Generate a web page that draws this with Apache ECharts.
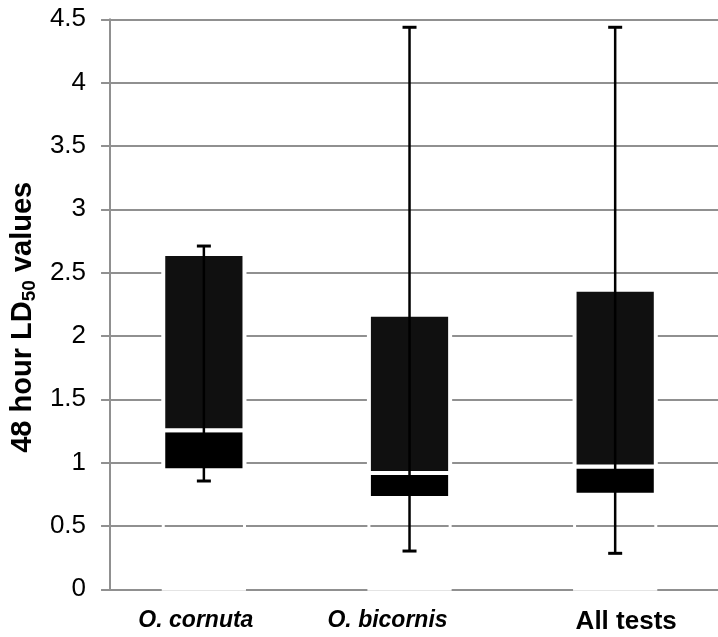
<!DOCTYPE html>
<html>
<head>
<meta charset="utf-8">
<script src="https://cdn.jsdelivr.net/npm/echarts@6/dist/echarts.min.js"></script>
<style>
  html, body { margin: 0; padding: 0; background: #fff; }
  #chart { width: 718px; height: 637px; }
</style>
</head>
<body>
<div id="chart"></div>
<script>
// LD50 summary per group: whiskers, quartiles and median
const categories = ['O. cornuta', 'O. bicornis', 'All tests'];
const whiskerLow = [0.855, 0.302, 0.284];
const lowerQuartile = [0.939, 0.721, 0.747];
const median = [1.255, 0.918, 0.969];
const upperQuartile = [2.647, 2.168, 2.365];
const whiskerHigh = [2.710, 4.437, 4.437];
const yTicks = { min: 0, max: 4.5, interval: 0.5 };
const italicNames = new Set(['O. cornuta', 'O. bicornis']);

const FONT = '"Liberation Sans", Arial, sans-serif';
const GRID_GRAY = '#909090';

// small horizontal nudges of the category captions (left, right padding)
const captionPad = { 'O. cornuta': [0, 16], 'O. bicornis': [0, 44], 'All tests': [22, 0] };

const boxData = categories.map((c, i) => [
  i, whiskerLow[i], lowerQuartile[i], median[i], upperQuartile[i], whiskerHigh[i]
]);

function renderBox(params, api) {
  const idx = api.value(0);
  const at = v => api.coord([idx, v]);
  const cx = at(0)[0];
  const band = api.size([1, 0])[0];
  const w = band * 0.395;
  const capW = 14;
  const y0 = at(0)[1];
  const yLo = at(api.value(1))[1];
  const yQ1 = at(api.value(2))[1];
  const yMed = at(api.value(3))[1];
  const yQ3 = at(api.value(4))[1];
  const yHi = at(api.value(5))[1];
  const left = cx - w / 2;
  return {
    type: 'group',
    children: [
      // hidden base segment: only its white outline shows against the grid
      { type: 'rect', shape: { x: left, y: yQ1, width: w, height: y0 - yQ1 },
        style: { fill: 'none', stroke: '#fff', lineWidth: 3 } },
      { type: 'rect', shape: { x: left, y: yMed, width: w, height: yQ1 - yMed },
        style: { fill: '#000', stroke: '#fff', lineWidth: 4 } },
      { type: 'rect', shape: { x: left, y: yQ3, width: w, height: yMed - yQ3 },
        style: { fill: '#101010', stroke: '#fff', lineWidth: 4 } },
      { type: 'line', shape: { x1: cx, y1: yLo, x2: cx, y2: yHi },
        style: { stroke: '#000', lineWidth: 2.5 } },
      { type: 'line', shape: { x1: cx - capW / 2, y1: yHi, x2: cx + capW / 2, y2: yHi },
        style: { stroke: '#000', lineWidth: 3 } },
      { type: 'line', shape: { x1: cx - capW / 2, y1: yLo, x2: cx + capW / 2, y2: yLo },
        style: { stroke: '#000', lineWidth: 3 } }
    ]
  };
}

const richCaptions = {};
categories.forEach((c, i) => {
  const pad = captionPad[c];
  richCaptions['c' + i] = {
    fontFamily: FONT,
    fontSize: italicNames.has(c) ? 23 : 26,
    fontWeight: 'bold',
    fontStyle: italicNames.has(c) ? 'italic' : 'normal',
    color: '#000',
    padding: [0, pad[1], 0, pad[0]]
  };
});

const chart = echarts.init(document.getElementById('chart'), null, { renderer: 'canvas' });
chart.setOption({
  animation: false,
  backgroundColor: '#fff',
  grid: { left: 97, right: 0, top: 19.3, bottom: 47.7, containLabel: false },
  xAxis: {
    type: 'category',
    data: categories,
    axisLine: { show: false },
    axisTick: { show: false },
    axisLabel: {
      margin: 20,
      formatter: v => '{c' + categories.indexOf(v) + '|' + v + '}',
      rich: richCaptions
    }
  },
  yAxis: {
    type: 'value',
    min: yTicks.min,
    max: yTicks.max,
    interval: yTicks.interval,
    offset: -9,
    axisLine: { show: true, lineStyle: { color: GRID_GRAY, width: 2 } },
    axisTick: { show: false },
    splitLine: { show: true, lineStyle: { color: GRID_GRAY, width: 2 } },
    axisLabel: { margin: 24, fontFamily: FONT, fontSize: 26, color: '#000' },
    name: '48 hour LD{sub|50} values',
    nameLocation: 'middle',
    nameGap: 70,
    nameRotate: 90,
    nameTextStyle: {
      fontFamily: FONT, fontSize: 29, fontWeight: 'bold', color: '#000',
      padding: [0, 26, 0, 0],
      rich: {
        sub: { fontFamily: FONT, fontSize: 19, fontWeight: 'bold', color: '#000', verticalAlign: 'bottom', padding: [14, 0, 0, 0] }
      }
    }
  },
  series: [{
    type: 'custom',
    renderItem: renderBox,
    data: boxData,
    encode: { x: 0, y: [1, 2, 3, 4, 5] },
    z: 3
  }]
});
</script>
</body>
</html>
